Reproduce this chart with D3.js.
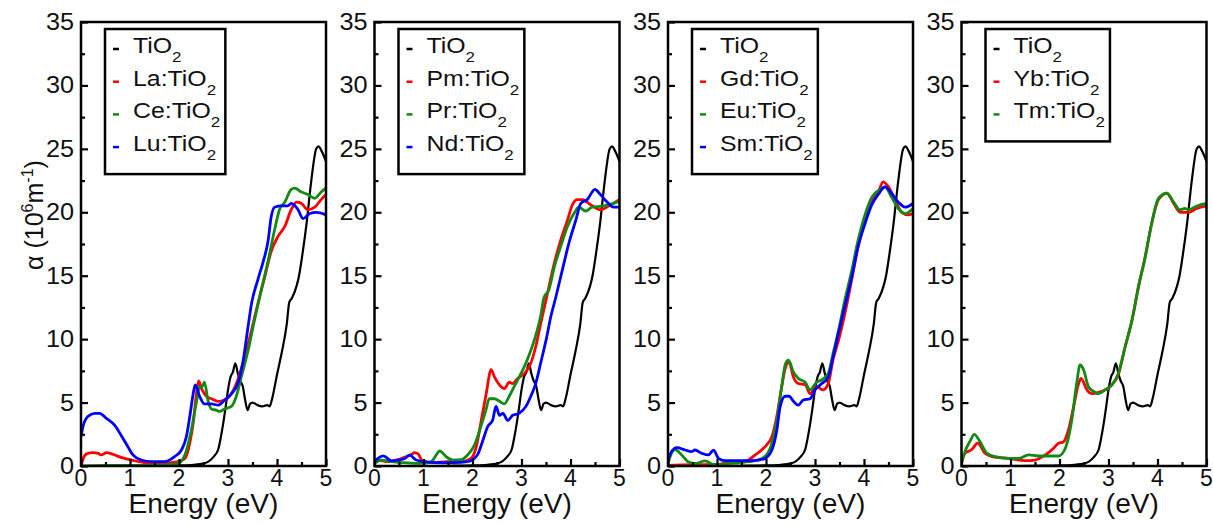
<!DOCTYPE html>
<html>
<head>
<meta charset="utf-8">
<script src="https://cdn.jsdelivr.net/npm/d3@7"></script>
<style>
  body { margin: 0; background: #fff; }
  text { font-family: "Liberation Sans", Arial, sans-serif; fill: #111; }
</style>
</head>
<body>
<div id="chart"></div>
<script>
// ---- data: [energy (eV), alpha (10^6 m^-1)] ----
var tio2 = [[0,0],[0.5,0],[1,0],[1.5,0.02],[2,0.05],[2.3,0.1],[2.5,0.2],[2.6,0.35],[2.7,0.7],[2.8,1.3],[2.85,2.2],[2.9,3.3],[2.95,4.6],[3.0,6.0],[3.05,7.0],[3.1,7.4],[3.15,8.1],[3.2,7.3],[3.25,6.7],[3.3,6.3],[3.35,5.2],[3.4,4.4],[3.45,4.9],[3.5,5.0],[3.6,4.8],[3.7,4.7],[3.8,4.8],[3.85,4.7],[3.9,5.3],[4.0,7.2],[4.1,9.0],[4.2,11.2],[4.25,12.9],[4.3,13.2],[4.4,14.2],[4.45,15],[4.5,16.2],[4.6,19],[4.7,22.5],[4.8,25.0],[4.85,25.2],[4.9,24.9],[4.95,24.5],[5.0,24]];

var la = [[0,0],[0.07,0.8],[0.14,1.0],[0.25,1.05],[0.35,1.0],[0.41,0.87],[0.52,1.05],[0.6,1.0],[0.69,0.87],[0.8,0.7],[0.89,0.6],[1.03,0.47],[1.3,0.26],[1.64,0.2],[1.98,0.34],[2.12,0.6],[2.22,1.8],[2.29,3.4],[2.35,5.5],[2.4,6.7],[2.46,6.1],[2.56,5.5],[2.66,5.3],[2.8,5.1],[2.93,5.2],[3.07,5.7],[3.2,6.8],[3.34,8.6],[3.48,10.7],[3.61,12.8],[3.75,14.9],[3.88,16.9],[4.02,18.1],[4.16,18.9],[4.29,20.2],[4.4,20.8],[4.5,20.7],[4.63,20.2],[4.77,20.4],[4.9,21],[5,21.4]];
var ce = [[0,0],[0.5,0.05],[1,0.05],[1.5,0.05],[1.8,0.1],[1.98,0.2],[2.12,0.87],[2.25,2.8],[2.35,4.9],[2.42,6.2],[2.47,6.25],[2.52,6.6],[2.59,5.2],[2.66,4.5],[2.76,4.4],[2.83,4.3],[2.93,4.5],[3.07,4.7],[3.17,5.5],[3.27,7],[3.41,9.1],[3.54,11.5],[3.68,13.9],[3.82,16.2],[3.95,18.6],[4.05,20.2],[4.16,20.8],[4.29,21.8],[4.36,21.9],[4.5,21.6],[4.63,21.4],[4.77,21.1],[4.9,21.6],[5,21.9]];
var lu = [[0,2.3],[0.04,3.1],[0.14,3.9],[0.28,4.15],[0.38,4.15],[0.52,3.75],[0.69,3.2],[0.82,2.4],[0.96,1.5],[1.06,0.87],[1.23,0.47],[1.44,0.34],[1.71,0.34],[1.91,0.74],[2.05,1.26],[2.15,2.3],[2.22,3.9],[2.29,5.7],[2.33,6.4],[2.42,5.5],[2.52,4.9],[2.66,4.9],[2.8,4.8],[2.93,5.2],[3.07,5.7],[3.2,6.5],[3.3,8.1],[3.41,11],[3.48,12.8],[3.61,14.7],[3.71,16],[3.82,17.8],[3.88,19.6],[3.95,20.4],[4.09,20.5],[4.22,20.5],[4.29,20.7],[4.43,20.2],[4.53,19.5],[4.67,19.9],[4.8,20],[5,19.8]];

var pm = [[0,0.2],[0.07,0.47],[0.28,0.34],[0.48,0.5],[0.62,0.7],[0.75,0.9],[0.82,1.05],[0.89,0.95],[0.99,0.34],[1.16,0.26],[1.5,0.34],[1.77,0.34],[1.97,0.6],[2.07,1.4],[2.17,3.4],[2.28,5.7],[2.38,7.6],[2.45,7.0],[2.55,6.4],[2.65,6.1],[2.75,6.6],[2.82,6.5],[2.92,6.9],[3.06,7.3],[3.19,8.1],[3.29,9.4],[3.39,11.2],[3.53,13.6],[3.67,16],[3.8,17.8],[3.94,19.4],[4.04,20.6],[4.14,21],[4.24,21],[4.41,20.6],[4.61,20.2],[4.82,20.6],[5,21]];
var pr = [[0,0.2],[0.14,0.47],[0.35,0.34],[0.62,0.26],[0.96,0.2],[1.16,0.34],[1.26,0.87],[1.33,1.2],[1.46,0.74],[1.6,0.47],[1.77,0.5],[1.9,0.87],[2.04,1.65],[2.17,3.1],[2.28,4.5],[2.34,5.3],[2.45,5.3],[2.55,5.1],[2.65,4.9],[2.75,5.5],[2.85,6.25],[2.99,7.3],[3.12,8.4],[3.26,9.9],[3.39,11.8],[3.46,13.3],[3.56,13.9],[3.67,15.7],[3.8,17.3],[3.94,18.9],[4.07,19.9],[4.17,20.4],[4.31,20.1],[4.44,20.4],[4.68,20.5],[4.88,20.7],[5,20.9]];
var nd = [[0,0.34],[0.07,0.6],[0.18,0.8],[0.35,0.4],[0.48,0.47],[0.62,0.6],[0.72,0.85],[0.85,0.47],[1.02,0.34],[1.29,0.26],[1.63,0.26],[1.9,0.34],[2.1,0.87],[2.21,2.0],[2.31,3.1],[2.41,3.6],[2.48,4.7],[2.55,4.0],[2.62,4.15],[2.72,3.6],[2.82,4.0],[2.95,4.15],[3.09,4.7],[3.19,5.5],[3.29,6.5],[3.39,8.1],[3.5,9.9],[3.6,11.8],[3.7,13.3],[3.83,15.4],[3.97,17.6],[4.11,19.4],[4.21,20.7],[4.34,21],[4.5,21.8],[4.61,21.4],[4.75,20.8],[4.88,20.4],[5,20.4]];

var gd = [[0,0.05],[0.5,0.1],[1.0,0.1],[1.2,0.25],[1.5,0.35],[1.64,0.47],[1.78,0.87],[1.91,1.26],[2.01,1.65],[2.12,2.3],[2.22,3.9],[2.32,6.25],[2.4,7.8],[2.47,8.2],[2.56,7.0],[2.66,6.5],[2.8,6.4],[2.9,5.7],[3.03,6.25],[3.17,6.0],[3.27,6.5],[3.37,8.4],[3.48,9.9],[3.61,12],[3.75,14.7],[3.88,17.3],[4.02,19.4],[4.16,21],[4.29,21.6],[4.39,22.4],[4.5,22.0],[4.63,21],[4.77,20],[4.9,19.8],[5,19.9]];
var eu = [[0,0.2],[0.07,1.0],[0.14,1.3],[0.28,0.87],[0.41,0.34],[0.55,0.2],[0.76,0.4],[0.93,0.13],[1.3,0.2],[1.64,0.34],[1.84,0.47],[2.01,0.87],[2.12,1.8],[2.22,3.6],[2.32,6.25],[2.4,8.1],[2.46,8.35],[2.56,7.4],[2.66,6.9],[2.8,6.6],[2.9,6.0],[3.03,6.6],[3.14,6.8],[3.27,7.3],[3.37,8.9],[3.48,10.7],[3.61,13.1],[3.75,15.4],[3.88,17.8],[4.02,19.8],[4.16,21.2],[4.33,21.8],[4.43,22.0],[4.56,21.2],[4.7,20.3],[4.84,19.9],[5,20.3]];
var sm = [[0,0.47],[0.07,1.13],[0.18,1.45],[0.35,1.26],[0.48,1.13],[0.55,1.26],[0.69,1.0],[0.82,0.87],[0.93,1.25],[1.03,0.6],[1.16,0.42],[1.64,0.42],[1.84,0.47],[1.98,0.6],[2.12,1.26],[2.22,2.8],[2.29,4.7],[2.39,5.5],[2.47,5.5],[2.56,5.1],[2.66,4.8],[2.76,5.2],[2.9,5.3],[3.0,6.0],[3.14,6.5],[3.27,7.0],[3.37,8.6],[3.48,10.5],[3.61,12.6],[3.75,14.9],[3.88,17.3],[4.02,19.1],[4.16,20.6],[4.29,21.4],[4.43,22.0],[4.56,21.5],[4.7,20.8],[4.84,20.4],[5,20.7]];

var yb = [[0,0.2],[0.07,1.0],[0.21,1.3],[0.33,1.8],[0.48,1.0],[0.62,0.74],[0.96,0.6],[1.3,0.42],[1.5,0.47],[1.71,0.87],[1.88,1.4],[1.98,1.8],[2.08,1.9],[2.18,2.8],[2.29,4.7],[2.39,6.5],[2.44,6.9],[2.56,6.0],[2.66,5.7],[2.8,5.8],[2.93,6.0],[3.07,6.4],[3.2,7.2],[3.34,9.4],[3.48,11.5],[3.61,14.1],[3.75,16.5],[3.88,19.1],[4.02,21],[4.19,21.5],[4.33,20.7],[4.46,20],[4.63,20],[4.8,20.3],[5,20.5]];
var tm = [[0,0.2],[0.07,1.13],[0.18,2.0],[0.26,2.5],[0.38,1.9],[0.52,1.0],[0.69,0.74],[0.96,0.6],[1.16,0.6],[1.37,0.87],[1.57,0.79],[1.78,0.79],[1.98,0.79],[2.12,1.4],[2.25,3.6],[2.35,6.5],[2.42,7.96],[2.49,7.6],[2.59,6.25],[2.69,5.9],[2.8,5.7],[2.93,6.0],[3.07,6.4],[3.2,7.3],[3.34,9.4],[3.48,11.5],[3.61,14.1],[3.75,16.5],[3.88,19.1],[4.02,21.1],[4.19,21.5],[4.33,20.8],[4.46,20.2],[4.56,20.3],[4.63,20.2],[4.8,20.5],[5,20.7]];

// legend names (without the ":TiO2" part) and data for each panel
var panelNames = [
  ["", "La", "Ce", "Lu"],
  ["", "Pm", "Pr", "Nd"],
  ["", "Gd", "Eu", "Sm"],
  ["", "Yb", "Tm"]
];
var panelData = [
  [tio2, la, ce, lu],
  [tio2, pm, pr, nd],
  [tio2, gd, eu, sm],
  [tio2, yb, tm]
];
var xTicks = [0, 1, 2, 3, 4, 5];
var yTicks = [0, 5, 10, 15, 20, 25, 30, 35];

var colors = ["#000000", "#ff0000", "#138a13", "#0000ff"];

// ---- layout ----
var svgWidth = 1213;
var svgHeight = 525;
var plotTop = 22, plotBottom = 466, plotW = 245, firstLeft = 81, step = 293.5;
var stretch = 1.1; // the original text is a bit wide

var svg = d3.select("#chart")
  .append("svg")
  .attr("width", svgWidth)
  .attr("height", svgHeight);

var xScale = d3.scaleLinear().domain([0, 5]).range([0, plotW]);
var yScale = d3.scaleLinear().domain([0, 35]).range([plotBottom - plotTop, 0]);
var plotH = plotBottom - plotTop;

var line = d3.line()
  .x(d => xScale(d[0]))
  .y(d => yScale(d[1]))
  .curve(d3.curveMonotoneX);

panelData.forEach(function(series, p) {
  var g = svg.append("g")
    .attr("transform", `translate(${firstLeft + p * step}, ${plotTop})`);

  g.append("clipPath").attr("id", "clip" + p)
    .append("rect").attr("width", plotW).attr("height", plotH);

  // curves
  var curves = g.append("g").attr("clip-path", `url(#clip${p})`);
  series.forEach(function(d, i) {
    curves.append("path")
      .datum(d)
      .attr("fill", "none")
      .attr("stroke", colors[i])
      .attr("stroke-width", i == 0 ? 2.2 : 2.8)
      .attr("stroke-linejoin", "round")
      .attr("d", line);
  });

  // inward ticks, major + minor
  var xAxis = d3.axisTop(xScale).tickValues(d3.range(0, 5.01, 0.5))
    .tickSize(0).tickFormat("");
  var gx = g.append("g").attr("transform", `translate(0, ${plotH})`).call(xAxis);
  gx.select(".domain").remove();
  gx.selectAll(".tick line")
    .attr("y2", d => (d % 1 == 0 ? -7 : -4))
    .attr("stroke", "#000").attr("stroke-width", 2.2);

  var yAxis = d3.axisRight(yScale).tickValues(d3.range(0, 35.01, 2.5))
    .tickSize(0).tickFormat("");
  var gy = g.append("g").call(yAxis);
  gy.select(".domain").remove();
  gy.selectAll(".tick line")
    .attr("x2", d => (d % 5 == 0 ? 7 : 4))
    .attr("stroke", "#000").attr("stroke-width", 2.2);

  // tick labels
  g.selectAll(".xl").data(xTicks).enter().append("text")
    .attr("transform", d => `translate(${xScale(d)}, ${plotH + 20})`)
    .attr("text-anchor", "middle")
    .style("font-size", "23px")
    .text(d => d);

  g.selectAll(".yl").data(yTicks).enter().append("text")
    .attr("transform", d => `translate(-7, ${yScale(d) + 8}) scale(${stretch}, 1)`)
    .attr("text-anchor", "end")
    .style("font-size", "23px")
    .text(d => d);

  // frame
  g.append("rect")
    .attr("width", plotW).attr("height", plotH)
    .attr("fill", "none").attr("stroke", "#000").attr("stroke-width", 2.5);

  // x label
  g.append("text")
    .attr("transform", `translate(${plotW / 2}, ${plotH + 47}) scale(1.04, 1)`)
    .attr("text-anchor", "middle")
    .style("font-size", "27px")
    .text("Energy (eV)");

  // legend
  var names = panelNames[p];
  var leg = g.append("g").attr("transform", "translate(24, 7)");
  var box = leg.append("rect")
    .attr("fill", "#fff").attr("stroke", "#000").attr("stroke-width", 2.5);
  names.forEach(function(n, i) {
    var yb = 24 + i * 32.7;
    leg.append("line")
      .attr("x1", 8).attr("x2", 14)
      .attr("y1", yb - 4).attr("y2", yb - 4)
      .attr("stroke", colors[i]).attr("stroke-width", 2.5);
    var t = leg.append("text")
      .attr("transform", `translate(28, ${yb}) scale(1.13, 1)`)
      .style("font-size", "22px");
    t.append("tspan").text(n == "" ? "TiO" : n + ":TiO");
    t.append("tspan").attr("dy", 9).style("font-size", "15px").text("2");
  });
  var bb = leg.node().getBBox();
  box.attr("x", 0).attr("y", 0)
    .attr("width", bb.x + bb.width + 5)
    .attr("height", 24 + (names.length - 1) * 32.7 + 23);
});

// y axis label
var ylab = svg.append("text")
  .attr("transform", "translate(43, 215) rotate(-90)")
  .attr("text-anchor", "middle")
  .style("font-size", "25px");
ylab.append("tspan").text("\u03b1 (10");
ylab.append("tspan").attr("dy", -10).style("font-size", "16px").text("6");
ylab.append("tspan").attr("dy", 10).text("m");
ylab.append("tspan").attr("dy", -10).style("font-size", "16px").text("-1");
ylab.append("tspan").attr("dy", 10).text(")");
</script>
</body>
</html>
